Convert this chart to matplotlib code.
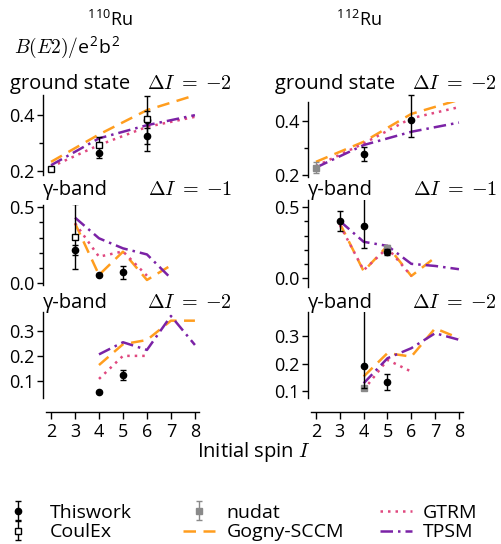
import matplotlib
matplotlib.use("Agg")
import matplotlib.pyplot as plt
from matplotlib.ticker import FixedLocator, FormatStrFormatter

plt.rcParams['font.family'] = ['Open Sans', 'DejaVu Sans']
plt.rcParams['mathtext.fontset'] = 'cm'
plt.rcParams['font.size'] = 13

# ---------------- data ----------------
spin_gs = [2, 4, 6, 8]
spin_g1 = [3, 4, 5, 6, 7, 8]
spin_g2 = [4, 5, 6, 7, 8]

# 110Ru theory
ru110_gs_gogny = [0.233, 0.331, 0.418, 0.471]
ru110_gs_gtrm = [0.215, 0.293, 0.358, 0.394]
ru110_gs_tpsm = [0.221, 0.317, 0.364, 0.400]
ru110_g1_gogny = [0.395, 0.055, 0.208, 0.022, 0.118]
ru110_g1_gtrm = [0.395, 0.175, 0.210, 0.050]
ru110_g1_tpsm = [0.432, 0.296, 0.230, 0.190, 0.033]
ru110_g2_gogny = [0.163, 0.247, 0.264, 0.342, 0.342]
ru110_g2_gtrm = [0.107, 0.200, 0.200]
ru110_g2_tpsm = [0.206, 0.255, 0.224, 0.361, 0.244]

# 110Ru experiment
ru110_gs_this_I = [4, 6, 6]
ru110_gs_this = [0.265, 0.382, 0.326]
ru110_gs_this_err = [0.020, 0.085, 0.055]
ru110_gs_coulex_I = [2, 4, 6]
ru110_gs_coulex = [0.207, 0.293, 0.385]
ru110_gs_coulex_err = [0.006, 0.030, 0.030]
ru110_g1_this_I = [3, 4, 5]
ru110_g1_this = [0.219, 0.055, 0.072]
ru110_g1_this_err = [0.033, 0.005, 0.044]
ru110_g1_coulex_I = [3]
ru110_g1_coulex = [0.307]
ru110_g1_coulex_err = [0.215]
ru110_g2_this_I = [4, 5]
ru110_g2_this = [0.056, 0.123]
ru110_g2_this_err = [0.004, 0.020]

# 112Ru theory
ru112_gs_gogny = [0.249, 0.323, 0.426, 0.478]
ru112_gs_gtrm = [0.233, 0.317, 0.410, 0.451]
ru112_gs_tpsm = [0.228, 0.311, 0.360, 0.394]
ru112_g1_gogny = [0.387, 0.048, 0.227, 0.014, 0.145]
ru112_g1_gtrm = [0.375, 0.055, 0.213, 0.014]
ru112_g1_tpsm = [0.403, 0.256, 0.227, 0.100, 0.085, 0.062]
ru112_g2_gogny = [0.153, 0.239, 0.226, 0.330, 0.294]
ru112_g2_gtrm = [0.104, 0.214, 0.171]
ru112_g2_tpsm = [0.128, 0.220, 0.257, 0.312, 0.288]

# 112Ru experiment
ru112_gs_this_I = [4, 6]
ru112_gs_this = [0.277, 0.404]
ru112_gs_this_lo = [0.025, 0.062]
ru112_gs_this_hi = [0.025, 0.092]
ru112_gs_nudat_I = [2]
ru112_gs_nudat = [0.228]
ru112_gs_nudat_err = [0.020]
ru112_g1_this_I = [3, 4, 5]
ru112_g1_this = [0.403, 0.367, 0.185]
ru112_g1_this_lo = [0.069, 0.158, 0.020]
ru112_g1_this_hi = [0.069, 0.300, 0.020]
ru112_g1_nudat_I = [5]
ru112_g1_nudat = [0.210]
ru112_g1_nudat_err = [0.020]
ru112_g2_this_I = [4, 5]
ru112_g2_this = [0.192, 0.132]
ru112_g2_this_lo = [0.080, 0.030]
ru112_g2_this_hi = [0.300, 0.030]
ru112_g2_nudat_I = [4]
ru112_g2_nudat = [0.112]
ru112_g2_nudat_err = [0.003]

nuclei = [r"$^{\mathregular{110}}$Ru", r"$^{\mathregular{112}}$Ru"]
row_titles = ["ground state", "γ-band", "γ-band"]
row_dI = [r"$\Delta I\;=\;{-2}$", r"$\Delta I\;=\;{-1}$", r"$\Delta I\;=\;{-2}$"]
x_ticks = [2, 3, 4, 5, 6, 7, 8]

# ---------------- styles ----------------
C_GOGNY = '#ff9d1e'
C_GTRM = '#e0487f'
C_TPSM = '#7b22a6'
C_NUDAT = '#8a8a8a'

W, H = 501, 544
fig = plt.figure(figsize=(W / 100, H / 100), dpi=100)


def px_axes(x0, x1, ytop, ybot):
    return fig.add_axes([x0 / W, 1 - ybot / H, (x1 - x0) / W, (ybot - ytop) / H])


col_x = [(46, 199), (311, 463)]
row_y = [[(95, 175), (205, 285), (312, 398)],
         [(102, 177), (200, 287), (312, 398)]]
ylims = [[(0.186, 0.472), (-0.011, 0.515), (0.030, 0.377)],
         [(0.193, 0.470), (-0.064, 0.552), (0.074, 0.390)]]
major_ticks = [[0.2, 0.4], [0.0, 0.5], [0.1, 0.2, 0.3]]
minor_ticks = [[0.3], [0.1, 0.2, 0.3, 0.4], []]

theory = {
    0: [(ru110_gs_gogny, ru110_gs_gtrm, ru110_gs_tpsm, spin_gs),
        (ru110_g1_gogny, ru110_g1_gtrm, ru110_g1_tpsm, spin_g1),
        (ru110_g2_gogny, ru110_g2_gtrm, ru110_g2_tpsm, spin_g2)],
    1: [(ru112_gs_gogny, ru112_gs_gtrm, ru112_gs_tpsm, spin_gs),
        (ru112_g1_gogny, ru112_g1_gtrm, ru112_g1_tpsm, spin_g1),
        (ru112_g2_gogny, ru112_g2_gtrm, ru112_g2_tpsm, spin_g2)],
}

this_kw = dict(fmt='o', color='black', ms=4.5, capsize=2.5, elinewidth=1.0,
               capthick=1.0, zorder=5)
coulex_kw = dict(fmt='s', mfc='white', mec='black', color='black', ms=4.5,
                 capsize=2.5, elinewidth=1.0, capthick=1.0, mew=1.0, zorder=6)
nudat_kw = dict(fmt='s', color=C_NUDAT, ms=4, capsize=2.5, elinewidth=1.0,
                capthick=1.0, zorder=4)

handles = {}
axes = {}
for c in range(2):
    for r in range(3):
        ax = px_axes(col_x[c][0], col_x[c][1], *row_y[c][r])
        axes[(c, r)] = ax
        gog, gtrm, tpsm, spins = theory[c][r]
        handles['gogny'], = ax.plot(spins[:len(gog)], gog, color=C_GOGNY, lw=1.8,
                                    ls=(0, (5, 3)), zorder=3)
        handles['gtrm'], = ax.plot(spins[:len(gtrm)], gtrm, color=C_GTRM, lw=1.8,
                                   ls=(0, (1, 2)), zorder=3)
        handles['tpsm'], = ax.plot(spins[:len(tpsm)], tpsm, color=C_TPSM, lw=1.8,
                                   ls=(0, (5, 2, 1, 2)), zorder=3)
        ax.set_xlim(1.79, 8.17)
        ax.set_ylim(*ylims[c][r])
        ax.patch.set_alpha(0)
        for s in ['top', 'right']:
            ax.spines[s].set_visible(False)
        ax.spines['left'].set_position(('outward', 2))
        ax.spines['left'].set_linewidth(1.0)
        ax.yaxis.set_major_locator(FixedLocator(major_ticks[r]))
        ax.yaxis.set_minor_locator(FixedLocator(minor_ticks[r]))
        ax.yaxis.set_major_formatter(FormatStrFormatter('%.1f'))
        ax.tick_params(axis='y', which='major', length=4, width=1.0, labelsize=13, pad=2)
        ax.tick_params(axis='y', which='minor', length=3, width=1.0)
        ax.xaxis.set_major_locator(FixedLocator(x_ticks))
        if r < 2:
            ax.spines['bottom'].set_visible(False)
            ax.tick_params(axis='x', which='both', bottom=False, labelbottom=False)
        else:
            ax.spines['bottom'].set_position(('outward', 10))
            ax.spines['bottom'].set_linewidth(1.0)
            ax.tick_params(axis='x', length=5, width=1.0, labelsize=13, pad=3)


def unclip(ax):
    for cont in ax.containers:
        data_line, caps, bars = cont.lines
        for a in [data_line, *caps, *bars]:
            if a is not None:
                a.set_clip_on(False)


# experimental points
ax = axes[(0, 0)]
handles['this'] = ax.errorbar(ru110_gs_this_I, ru110_gs_this, yerr=ru110_gs_this_err, **this_kw)
handles['coulex'] = ax.errorbar(ru110_gs_coulex_I, ru110_gs_coulex,
                                yerr=ru110_gs_coulex_err, **coulex_kw)
unclip(ax)

ax = axes[(0, 1)]
ax.errorbar(ru110_g1_this_I, ru110_g1_this, yerr=ru110_g1_this_err, **this_kw)
ax.errorbar(ru110_g1_coulex_I, ru110_g1_coulex, yerr=ru110_g1_coulex_err, **coulex_kw)

ax = axes[(0, 2)]
ax.errorbar(ru110_g2_this_I, ru110_g2_this, yerr=ru110_g2_this_err, **this_kw)

ax = axes[(1, 0)]
handles['nudat'] = ax.errorbar(ru112_gs_nudat_I, ru112_gs_nudat,
                               yerr=ru112_gs_nudat_err, **nudat_kw)
ax.errorbar(ru112_gs_this_I, ru112_gs_this, yerr=[ru112_gs_this_lo, ru112_gs_this_hi], **this_kw)
unclip(ax)

ax = axes[(1, 1)]
ax.errorbar(ru112_g1_nudat_I, ru112_g1_nudat, yerr=ru112_g1_nudat_err, **nudat_kw)
ax.errorbar(ru112_g1_this_I, ru112_g1_this, yerr=[ru112_g1_this_lo, ru112_g1_this_hi], **this_kw)

ax = axes[(1, 2)]
ax.errorbar(ru112_g2_nudat_I, ru112_g2_nudat, yerr=ru112_g2_nudat_err, **nudat_kw)
ax.errorbar(ru112_g2_this_I, ru112_g2_this, yerr=[ru112_g2_this_lo, ru112_g2_this_hi], **this_kw)


# panel labels
def ftext(x, y, s, **kw):
    fig.text(x / W, 1 - y / H, s, va='center', **kw)


ftext(110, 20, nuclei[0], ha='center', fontsize=13)
ftext(359, 20, nuclei[1], ha='center', fontsize=13)
ftext(14, 48, r"$B(E2)/$e$^{\mathregular{2}}$b$^{\mathregular{2}}$", ha='left', fontsize=14)

title_y = [84, 190, 303]
title_x0 = [[10, 43, 43], [275, 308, 308]]
title_x1 = [232, 497]
for c in range(2):
    for r in range(3):
        ftext(title_x0[c][r], title_y[r], row_titles[r], ha='left', fontsize=14.5)
        ftext(title_x1[c], title_y[r], row_dI[r], ha='right', fontsize=14.5)

ftext(254, 452, r"Initial spin $I$", ha='center', fontsize=14.5)

# legend, one block per column
leg_cols = [
    ([handles['this'], handles['coulex']], ['Thiswork', 'CoulEx'], 2, 0.8),
    ([handles['nudat'], handles['gogny']], ['nudat', 'Gogny-SCCM'], 183, 0.6),
    ([handles['gtrm'], handles['tpsm']], ['GTRM', 'TPSM'], 380, 0.55),
]
for hs, labs, x0, pad in leg_cols:
    fig.legend(hs, labs, frameon=False, fontsize=14, loc='center left',
               bbox_to_anchor=(x0 / W, 1 - 522.5 / H), handlelength=1.65,
               handletextpad=pad, labelspacing=0.1, borderpad=0.0,
               borderaxespad=0.0)

fig.savefig("out.png", dpi=100)
